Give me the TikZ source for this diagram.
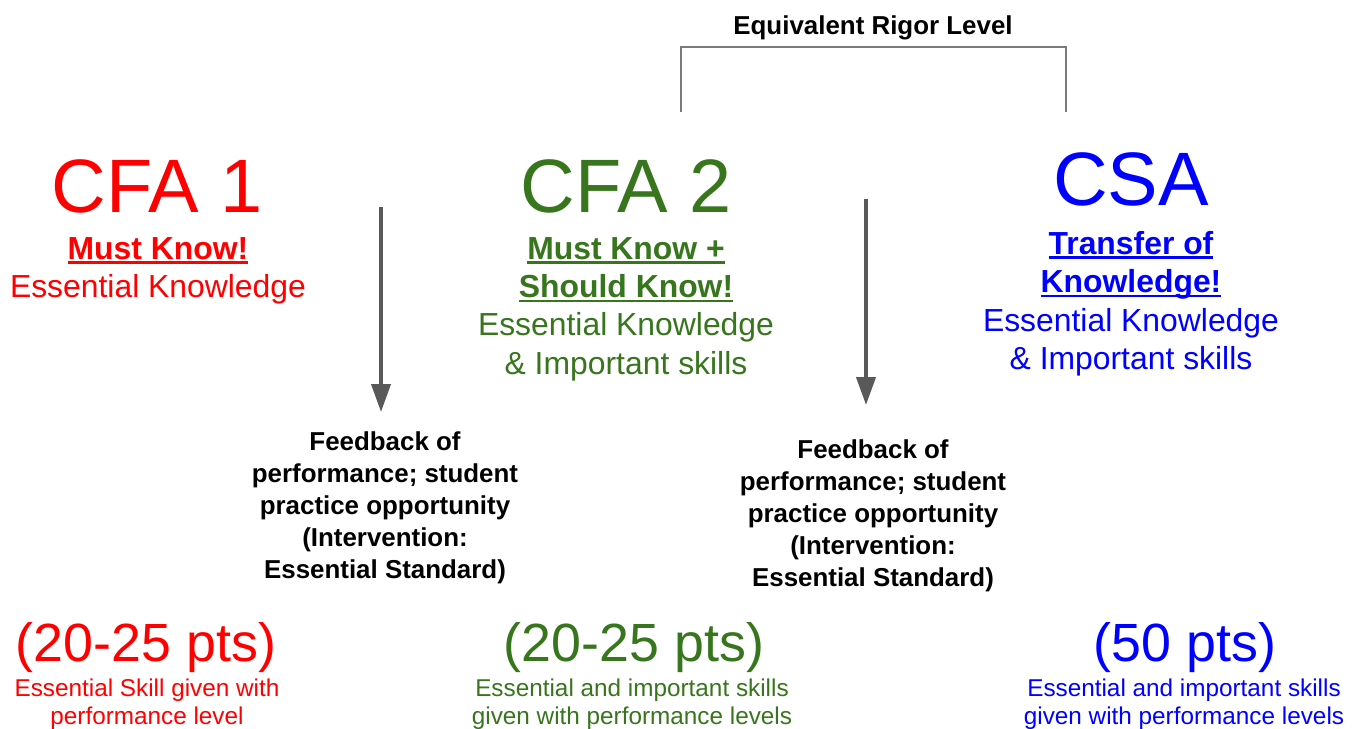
\documentclass[tikz,border=0pt]{standalone}
\usepackage{fontspec}
\setmainfont{Liberation Sans}
\usetikzlibrary{arrows.meta}
\definecolor{cfa red}{HTML}{FF0000}
\definecolor{cfa green}{HTML}{38761D}
\definecolor{csa blue}{HTML}{0000FF}
\definecolor{arrow gray}{HTML}{595959}
\definecolor{bracket gray}{HTML}{7A7A7A}
\newsavebox{\ulinbox}
\newcommand{\ulin}[1]{\sbox{\ulinbox}{#1}\rlap{\rule[-4.5pt]{\wd\ulinbox}{2.4pt}}\usebox{\ulinbox}}

\begin{document}
\begin{tikzpicture}[x=1bp,y=-1bp,
		every node/.style={inner sep=0pt},
		big/.style={font=\fontsize{76}{80}\selectfont,anchor=base},
		sub/.style={font=\fontsize{32}{38.5}\selectfont,align=center,anchor=north},
		fb/.style={font=\bfseries\fontsize{26}{32}\selectfont,align=center,anchor=north},
		pts/.style={font=\fontsize{54}{60}\selectfont,anchor=base},
		note/.style={font=\fontsize{24.4}{27.5}\selectfont,align=center,anchor=north},
		down/.style={draw=arrow gray,line width=4bp,-{Triangle[width=19bp,length=28bp]}}]
	\fill[white] (0,0) rectangle (1361,728);
	\useasboundingbox (0,0) rectangle (1361,728);
	% rigor bracket over CFA 2 and CSA
	\node[anchor=base,font=\bfseries\fontsize{26}{30}\selectfont] (title) at (873,35) {Equivalent Rigor Level};
	\coordinate (rigL) at (681,112);
	\coordinate (rigTop) at (873,47);
	\coordinate (rigR) at (1066,112);
	\draw[bracket gray,line width=1.5bp] (rigL) |- (rigTop) -| (rigR);
	% three assessment columns
	\node[big,cfa red] (cfaOne) at (157,212) {CFA 1};
	\node[sub,cfa red] (mustOne) at (158,237) {\textbf{\ulin{Must Know!}}\\Essential Knowledge};
	\node[big,cfa green] (cfaTwo) at (626,212) {CFA 2};
	\node[sub,cfa green] (mustTwo) at (626,237) {\textbf{\ulin{Must Know +}}\\\textbf{\ulin{Should Know!}}\\Essential Knowledge\\\& Important skills};
	\node[big,csa blue] (csa) at (1131,205) {CSA};
	\node[sub,csa blue] (transfer) at (1131,231) {\textbf{\ulin{Transfer of}}\\\textbf{\ulin{Knowledge!}}\\Essential Knowledge\\\& Important skills};
	% feedback between the assessments
	\coordinate (arrOneTop) at (381,207);
	\coordinate (arrOneEnd) at (381,412);
	\coordinate (arrTwoTop) at (866,199);
	\coordinate (arrTwoEnd) at (866,405);
	\draw[down] (arrOneTop) -- (arrOneEnd);
	\draw[down] (arrTwoTop) -- (arrTwoEnd);
	\node[fb] (fbOne) at (385,432) {Feedback of\\performance; student\\practice opportunity\\(Intervention:\\Essential Standard)};
	\node[fb] (fbTwo) at (873,440) {Feedback of\\performance; student\\practice opportunity\\(Intervention:\\Essential Standard)};
	% points
	\node[pts,cfa red] (ptsOne) at (146,661) {(20-25 pts)};
	\node[pts,cfa green] (ptsTwo) at (634,661) {(20-25 pts)};
	\node[pts,csa blue] (ptsThree) at (1185,661) {(50 pts)};
	\node[note,cfa red] (noteOne) at (147,679) {Essential Skill given with\\performance level};
	\node[note,cfa green] (noteTwo) at (632,679) {Essential and important skills\\given with performance levels};
	\node[note,csa blue] (noteThree) at (1184,679) {Essential and important skills\\given with performance levels};
\end{tikzpicture}
\end{document}
